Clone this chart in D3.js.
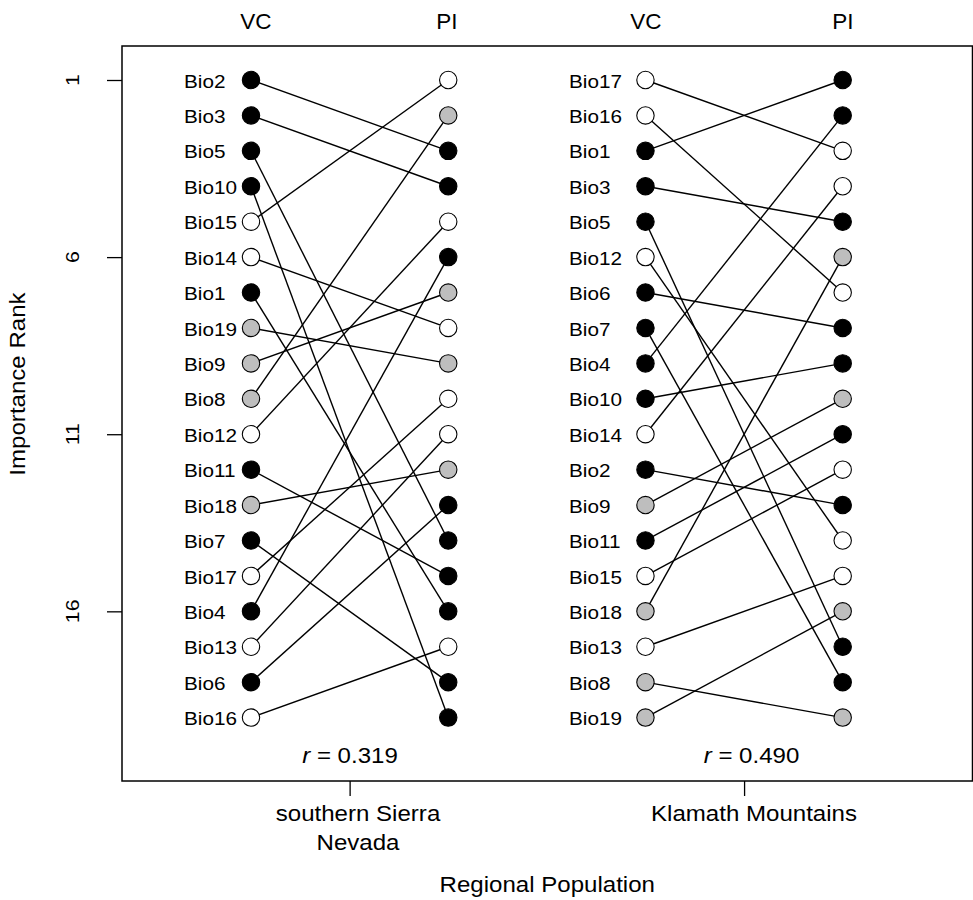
<!DOCTYPE html>
<html>
<head>
<meta charset="utf-8">
<script src="https://cdn.jsdelivr.net/npm/d3@7"></script>
<style>
  body { margin: 0; background: #fff; }
  svg { display: block; }
  text { font-family: "Liberation Sans", Arial, Helvetica, sans-serif; fill: #000; }
</style>
</head>
<body>
<svg id="chart" width="973" height="900"></svg>
<script>
// ---------------- data ----------------
const regions = ["southern Sierra Nevada", "Klamath Mountains"];
const regionLabelLines = [["southern Sierra", "Nevada"], ["Klamath Mountains"]];
const correlations = ["0.319", "0.490"];
const columnLabels = ["VC", "PI"];
const yTickValues = [1, 6, 11, 16];

// variables ordered by rank (rank 1 first)
const sierraVC = ["Bio2","Bio3","Bio5","Bio10","Bio15","Bio14","Bio1","Bio19","Bio9","Bio8","Bio12","Bio11","Bio18","Bio7","Bio17","Bio4","Bio13","Bio6","Bio16"];
const sierraPI = ["Bio15","Bio8","Bio2","Bio3","Bio12","Bio4","Bio9","Bio14","Bio19","Bio17","Bio13","Bio18","Bio6","Bio5","Bio11","Bio1","Bio16","Bio7","Bio10"];
const klamathVC = ["Bio17","Bio16","Bio1","Bio3","Bio5","Bio12","Bio6","Bio7","Bio4","Bio10","Bio14","Bio2","Bio9","Bio11","Bio15","Bio18","Bio13","Bio8","Bio19"];
const klamathPI = ["Bio1","Bio4","Bio17","Bio14","Bio3","Bio18","Bio16","Bio6","Bio10","Bio9","Bio11","Bio15","Bio2","Bio12","Bio13","Bio19","Bio5","Bio7","Bio8"];

// variable groups (fill)
const blackVars = ["Bio1","Bio2","Bio3","Bio4","Bio5","Bio6","Bio7","Bio10","Bio11"];
const grayVars  = ["Bio8","Bio9","Bio18","Bio19"];
const whiteVars = ["Bio12","Bio13","Bio14","Bio15","Bio16","Bio17"];

// ---------------- drawing ----------------
const fillOf = v => blackVars.includes(v) ? "#000000" : grayVars.includes(v) ? "#bebebe" : "#ffffff";

const svg = d3.select("#chart");
const box = {x0: 122, x1: 972.5, y0: 46, y1: 781};
const STRETCH = 1.12;   // glyphs in the reference are a little wider than Arial

function addText(parent, px, py, str, size, anchor, rotate, stretch) {
  const t = parent.append("text")
    .attr("transform", `translate(${px},${py})` + (rotate ? ` rotate(${rotate})` : "") + ` scale(${stretch},1)`)
    .attr("text-anchor", anchor)
    .style("font-size", size + "px");
  if (str !== null) t.text(str);
  return t;
}

const x = d3.scaleLinear().domain([1, 4]).range([251, 842.7]);
const y = d3.scaleLinear().domain([1, 19]).range([80, 717.6]);

const panels = [
  {vc: sierraVC, pi: sierraPI, xv: 1, xp: 2, labelX: 184, rX: 350, lab: regionLabelLines[0], labX: 358, r: correlations[0], topX: [256, 447]},
  {vc: klamathVC, pi: klamathPI, xv: 3, xp: 4, labelX: 569, rX: 751.5, lab: regionLabelLines[1], labX: 754, r: correlations[1], topX: [646, 843]}
];

// y axis
const yAxis = d3.axisLeft(y).tickValues(yTickValues).tickSize(15).tickFormat("");
const gy = svg.append("g").attr("transform", `translate(${box.x0},0)`).call(yAxis);
gy.select(".domain").remove();
gy.selectAll(".tick line").attr("stroke", "#000").attr("stroke-width", 1.3);
const gyl = svg.append("g");
yTickValues.forEach(v => addText(gyl, 78.5, y(v), String(v), 19, "middle", -90, STRETCH));

addText(svg, 25, 384, "Importance Rank", 21.5, "middle", -90, STRETCH);

// x axis
const xAxis = d3.axisBottom(x).tickValues([1.5, 3.5]).tickSize(15).tickFormat("");
const gx = svg.append("g").attr("transform", `translate(0,${box.y1})`).call(xAxis);
gx.select(".domain").remove();
gx.selectAll(".tick line").attr("stroke", "#000").attr("stroke-width", 1.3);

addText(svg, (box.x0 + box.x1) / 2, 892, "Regional Population", 21.5, "middle", 0, STRETCH);

panels.forEach((p) => {
  const g = svg.append("g");
  // lines
  const links = p.vc.map((v, i) => ({v, r1: i + 1, r2: p.pi.indexOf(v) + 1}));
  g.selectAll("line.link").data(links).join("line")
    .attr("class", "link")
    .attr("x1", x(p.xv)).attr("y1", d => y(d.r1))
    .attr("x2", x(p.xp)).attr("y2", d => y(d.r2))
    .attr("stroke", "#000").attr("stroke-width", 1.4);
  // VC points
  g.selectAll("circle.vc").data(p.vc).join("circle")
    .attr("class", "vc")
    .attr("cx", x(p.xv)).attr("cy", (d, i) => y(i + 1)).attr("r", 8.7)
    .attr("fill", d => fillOf(d)).attr("stroke", "#000").attr("stroke-width", 1.1);
  // PI points
  g.selectAll("circle.pi").data(p.pi).join("circle")
    .attr("class", "pi")
    .attr("cx", x(p.xp)).attr("cy", (d, i) => y(i + 1)).attr("r", 8.7)
    .attr("fill", d => fillOf(d)).attr("stroke", "#000").attr("stroke-width", 1.1);
  // variable labels
  p.vc.forEach((v, i) => addText(g, p.labelX, y(i + 1) + 7.6, v, 18.5, "start", 0, STRETCH));
  // correlation text
  const rt = addText(g, p.rX, 763, null, 21.5, "middle", 0, STRETCH);
  rt.append("tspan").style("font-style", "italic").text("r");
  rt.append("tspan").text(" = " + p.r);
  // column headers
  columnLabels.forEach((c, ci) => {
    svg.append("text").attr("x", p.topX[ci]).attr("y", 29)
      .attr("text-anchor", "middle").style("font-size", "22.5px").text(c);
  });
  // region label
  p.lab.forEach((line, li) => addText(svg, p.labX, 821 + li * 29, line, 21.5, "middle", 0, STRETCH));
});

// plot box
svg.append("rect")
  .attr("x", box.x0).attr("y", box.y0)
  .attr("width", box.x1 - box.x0).attr("height", box.y1 - box.y0)
  .attr("fill", "none").attr("stroke", "#000").attr("stroke-width", 1.5);
</script>
</body>
</html>
